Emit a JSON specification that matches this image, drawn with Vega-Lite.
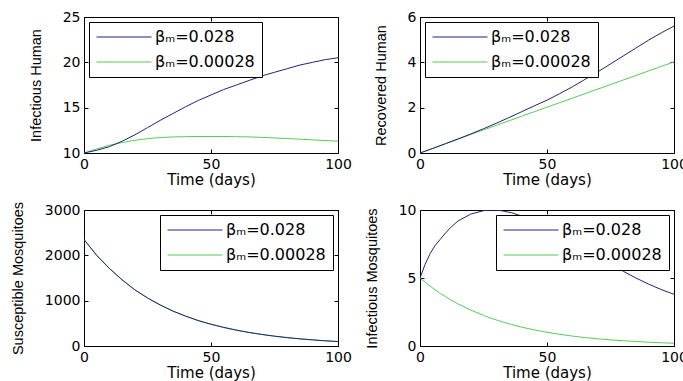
{
  "$schema": "https://vega.github.io/schema/vega-lite/v6.json",
  "padding": {"left": 9, "top": 9, "right": 0, "bottom": 0},
  "background": "white",
  "columns": 2,
  "spacing": {"row": 57, "column": 82},
  "bounds": "flush",
  "datasets": {
    "ih": [
      {"t": 0, "b": 10, "g": 10}, {"t": 5, "b": 10.3, "g": 10.45}, {"t": 10, "b": 10.7, "g": 10.85},
      {"t": 15, "b": 11.3, "g": 11.15}, {"t": 20, "b": 12.0, "g": 11.4}, {"t": 25, "b": 12.8, "g": 11.58},
      {"t": 30, "b": 13.6, "g": 11.7}, {"t": 35, "b": 14.35, "g": 11.77}, {"t": 40, "b": 15.1, "g": 11.8},
      {"t": 45, "b": 15.8, "g": 11.82}, {"t": 50, "b": 16.4, "g": 11.82}, {"t": 55, "b": 17.0, "g": 11.82},
      {"t": 60, "b": 17.5, "g": 11.8}, {"t": 65, "b": 18.0, "g": 11.77}, {"t": 70, "b": 18.5, "g": 11.72},
      {"t": 75, "b": 18.9, "g": 11.66}, {"t": 80, "b": 19.3, "g": 11.6}, {"t": 85, "b": 19.7, "g": 11.52},
      {"t": 90, "b": 20.0, "g": 11.45}, {"t": 95, "b": 20.3, "g": 11.37}, {"t": 100, "b": 20.5, "g": 11.3}
    ],
    "rh": [
      {"t": 0, "b": 0, "g": 0}, {"t": 5, "b": 0.2, "g": 0.2}, {"t": 10, "b": 0.41, "g": 0.41},
      {"t": 15, "b": 0.62, "g": 0.61}, {"t": 20, "b": 0.84, "g": 0.82}, {"t": 25, "b": 1.07, "g": 1.02},
      {"t": 30, "b": 1.31, "g": 1.22}, {"t": 35, "b": 1.56, "g": 1.42}, {"t": 40, "b": 1.82, "g": 1.62},
      {"t": 45, "b": 2.08, "g": 1.82}, {"t": 50, "b": 2.33, "g": 2.02}, {"t": 55, "b": 2.62, "g": 2.22},
      {"t": 60, "b": 2.92, "g": 2.42}, {"t": 65, "b": 3.25, "g": 2.62}, {"t": 70, "b": 3.58, "g": 2.82},
      {"t": 75, "b": 3.93, "g": 3.02}, {"t": 80, "b": 4.28, "g": 3.22}, {"t": 85, "b": 4.63, "g": 3.42},
      {"t": 90, "b": 4.98, "g": 3.62}, {"t": 95, "b": 5.3, "g": 3.82}, {"t": 100, "b": 5.6, "g": 4.02}
    ],
    "sm": [
      {"t": 0, "b": 2350, "g": 2350}, {"t": 5, "b": 2000, "g": 2000}, {"t": 10, "b": 1710, "g": 1710},
      {"t": 15, "b": 1460, "g": 1460}, {"t": 20, "b": 1240, "g": 1240}, {"t": 25, "b": 1060, "g": 1060},
      {"t": 30, "b": 905, "g": 905}, {"t": 35, "b": 770, "g": 770}, {"t": 40, "b": 660, "g": 660},
      {"t": 45, "b": 560, "g": 560}, {"t": 50, "b": 480, "g": 480}, {"t": 55, "b": 410, "g": 410},
      {"t": 60, "b": 350, "g": 350}, {"t": 65, "b": 298, "g": 298}, {"t": 70, "b": 255, "g": 255},
      {"t": 75, "b": 217, "g": 217}, {"t": 80, "b": 185, "g": 185}, {"t": 85, "b": 158, "g": 158},
      {"t": 90, "b": 135, "g": 135}, {"t": 95, "b": 115, "g": 115}, {"t": 100, "b": 98, "g": 98}
    ],
    "im": [
      {"t": 0, "b": 5.0, "g": 5.0}, {"t": 2, "b": 6.0, "g": 4.7}, {"t": 4, "b": 6.8, "g": 4.4},
      {"t": 6, "b": 7.4, "g": 4.13}, {"t": 8, "b": 7.85, "g": 3.87}, {"t": 10, "b": 8.3, "g": 3.63},
      {"t": 12, "b": 8.7, "g": 3.4}, {"t": 15, "b": 9.2, "g": 3.09}, {"t": 20, "b": 9.7, "g": 2.64},
      {"t": 25, "b": 9.95, "g": 2.25}, {"t": 28, "b": 10.0, "g": 2.04}, {"t": 32, "b": 9.95, "g": 1.8},
      {"t": 36, "b": 9.8, "g": 1.58}, {"t": 40, "b": 9.56, "g": 1.39}, {"t": 45, "b": 9.25, "g": 1.18},
      {"t": 50, "b": 8.9, "g": 1.01}, {"t": 55, "b": 8.4, "g": 0.86}, {"t": 60, "b": 7.85, "g": 0.73},
      {"t": 65, "b": 7.25, "g": 0.62}, {"t": 70, "b": 6.65, "g": 0.53}, {"t": 75, "b": 6.05, "g": 0.45},
      {"t": 80, "b": 5.5, "g": 0.39}, {"t": 85, "b": 5.0, "g": 0.33}, {"t": 90, "b": 4.55, "g": 0.28},
      {"t": 95, "b": 4.15, "g": 0.24}, {"t": 100, "b": 3.8, "g": 0.2}
    ]
  },
  "concat": [
    {
      "width": 254, "height": 136,
      "data": {"name": "ih"},
      "transform": [{"fold": ["g", "b"], "as": ["s", "v"]}],
      "layer": [
        {
          "mark": {"type": "line", "strokeWidth": 1, "clip": true},
          "encoding": {
            "x": {"field": "t", "type": "quantitative", "scale": {"domain": [0, 100], "nice": false}, "axis": {"values": [0, 50, 100], "title": "Time (days)"}},
            "y": {"field": "v", "type": "quantitative", "scale": {"domain": [10, 25], "nice": false, "zero": false}, "axis": {"values": [10, 15, 20, 25], "title": "Infectious Human"}},
            "color": {"field": "s", "type": "nominal", "scale": {"domain": ["b", "g"], "range": ["#22227a", "#55cc55"]}, "legend": {"orient": "top-left", "values": ["b", "g"], "labelExpr": "datum.value == 'b' ? 'βₘ=0.028' : 'βₘ=0.00028'"}}
          }
        },
        {
          "mark": {"type": "point", "opacity": 0},
          "encoding": {
            "x": {"field": "t", "type": "quantitative", "scale": {"domain": [0, 100], "nice": false}, "axis": {"orient": "top", "values": [0, 50, 100], "labels": false, "title": null}},
            "y": {"field": "v", "type": "quantitative", "scale": {"domain": [10, 25], "nice": false, "zero": false}, "axis": {"orient": "right", "values": [10, 15, 20, 25], "labels": false, "title": null}}
          }
        }
      ],
      "resolve": {"axis": {"x": "independent", "y": "independent"}}
    },
    {
      "width": 254, "height": 136,
      "data": {"name": "rh"},
      "transform": [{"fold": ["g", "b"], "as": ["s", "v"]}],
      "layer": [
        {
          "mark": {"type": "line", "strokeWidth": 1, "clip": true},
          "encoding": {
            "x": {"field": "t", "type": "quantitative", "scale": {"domain": [0, 100], "nice": false}, "axis": {"values": [0, 50, 100], "title": "Time (days)"}},
            "y": {"field": "v", "type": "quantitative", "scale": {"domain": [0, 6], "nice": false}, "axis": {"values": [0, 2, 4, 6], "title": "Recovered Human"}},
            "color": {"field": "s", "type": "nominal", "scale": {"domain": ["b", "g"], "range": ["#22227a", "#55cc55"]}, "legend": {"orient": "top-left", "values": ["b", "g"], "labelExpr": "datum.value == 'b' ? 'βₘ=0.028' : 'βₘ=0.00028'"}}
          }
        },
        {
          "mark": {"type": "point", "opacity": 0},
          "encoding": {
            "x": {"field": "t", "type": "quantitative", "scale": {"domain": [0, 100], "nice": false}, "axis": {"orient": "top", "values": [0, 50, 100], "labels": false, "title": null}},
            "y": {"field": "v", "type": "quantitative", "scale": {"domain": [0, 6], "nice": false}, "axis": {"orient": "right", "values": [0, 2, 4, 6], "labels": false, "title": null}}
          }
        }
      ],
      "resolve": {"axis": {"x": "independent", "y": "independent"}}
    },
    {
      "width": 254, "height": 136,
      "data": {"name": "sm"},
      "transform": [{"fold": ["g", "b"], "as": ["s", "v"]}],
      "layer": [
        {
          "mark": {"type": "line", "strokeWidth": 1, "clip": true},
          "encoding": {
            "x": {"field": "t", "type": "quantitative", "scale": {"domain": [0, 100], "nice": false}, "axis": {"values": [0, 50, 100], "title": "Time (days)"}},
            "y": {"field": "v", "type": "quantitative", "scale": {"domain": [0, 3000], "nice": false}, "axis": {"values": [0, 1000, 2000, 3000], "format": "d", "title": "Susceptible Mosquitoes"}},
            "color": {"field": "s", "type": "nominal", "scale": {"domain": ["b", "g"], "range": ["#22227a", "#55cc55"]}, "legend": {"orient": "top-right", "values": ["b", "g"], "labelExpr": "datum.value == 'b' ? 'βₘ=0.028' : 'βₘ=0.00028'"}}
          }
        },
        {
          "mark": {"type": "point", "opacity": 0},
          "encoding": {
            "x": {"field": "t", "type": "quantitative", "scale": {"domain": [0, 100], "nice": false}, "axis": {"orient": "top", "values": [0, 50, 100], "labels": false, "title": null}},
            "y": {"field": "v", "type": "quantitative", "scale": {"domain": [0, 3000], "nice": false}, "axis": {"orient": "right", "values": [0, 1000, 2000, 3000], "labels": false, "title": null}}
          }
        }
      ],
      "resolve": {"axis": {"x": "independent", "y": "independent"}}
    },
    {
      "width": 254, "height": 136,
      "data": {"name": "im"},
      "transform": [{"fold": ["g", "b"], "as": ["s", "v"]}],
      "layer": [
        {
          "mark": {"type": "line", "strokeWidth": 1, "clip": true},
          "encoding": {
            "x": {"field": "t", "type": "quantitative", "scale": {"domain": [0, 100], "nice": false}, "axis": {"values": [0, 50, 100], "title": "Time (days)"}},
            "y": {"field": "v", "type": "quantitative", "scale": {"domain": [0, 10], "nice": false}, "axis": {"values": [0, 5, 10], "title": "Infectious Mosquitoes"}},
            "color": {"field": "s", "type": "nominal", "scale": {"domain": ["b", "g"], "range": ["#22227a", "#55cc55"]}, "legend": {"orient": "top-right", "values": ["b", "g"], "labelExpr": "datum.value == 'b' ? 'βₘ=0.028' : 'βₘ=0.00028'"}}
          }
        },
        {
          "mark": {"type": "point", "opacity": 0},
          "encoding": {
            "x": {"field": "t", "type": "quantitative", "scale": {"domain": [0, 100], "nice": false}, "axis": {"orient": "top", "values": [0, 50, 100], "labels": false, "title": null}},
            "y": {"field": "v", "type": "quantitative", "scale": {"domain": [0, 10], "nice": false}, "axis": {"orient": "right", "values": [0, 5, 10], "labels": false, "title": null}}
          }
        }
      ],
      "resolve": {"axis": {"x": "independent", "y": "independent"}}
    }
  ],
  "resolve": {"scale": {"color": "independent"}, "legend": {"color": "independent"}},
  "config": {
    "font": "DejaVu Sans",
    "view": {"stroke": "#000", "strokeWidth": 1},
    "axis": {
      "grid": false, "domain": false, "tickSize": -4, "tickColor": "#000", "tickWidth": 1,
      "labelFont": "DejaVu Sans", "labelFontSize": 14, "labelColor": "#000", "labelFlush": false,
      "titleFont": "DejaVu Sans", "titleFontWeight": "normal", "titleColor": "#000"
    },
    "axisX": {"labelPadding": 8, "titleFontSize": 15, "titlePadding": 1},
    "axisY": {"labelPadding": 8, "titleFont": "Liberation Sans", "titleFontSize": 14.5, "titlePadding": 19},
    "legend": {
      "title": null, "symbolType": "stroke", "symbolSize": 3025, "symbolStrokeWidth": 1,
      "clipHeight": 16, "rowPadding": 9, "padding": 7, "offset": 5,
      "strokeColor": "#000", "fillColor": "#fff",
      "labelFont": "DejaVu Sans", "labelFontSize": 16, "labelColor": "#000", "labelOffset": 3,
      "cornerRadius": 0
    }
  }
}
